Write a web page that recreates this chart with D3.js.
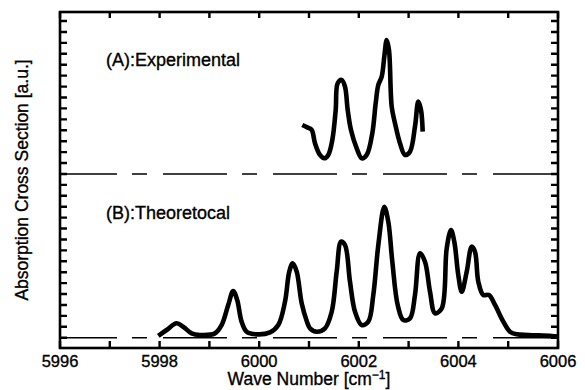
<!DOCTYPE html>
<html>
<head>
<meta charset="utf-8">
<script src="https://cdn.jsdelivr.net/npm/d3@7"></script>
<style>
  html, body { margin: 0; padding: 0; background: #fff; }
  svg { display: block; }
  text { font-family: "Liberation Sans", "DejaVu Sans", sans-serif; fill: #000; stroke: #000; stroke-width: 0.35px; }
</style>
</head>
<body>
<svg id="chart" width="585" height="390"></svg>
<script>
// ---- data ----
const xTicks = [5996, 5997, 5998, 5999, 6000, 6001, 6002, 6003, 6004, 6005, 6006];
const xLabelTicks = [5996, 5998, 6000, 6002, 6004, 6006];
const yTicks = d3.range(0, 30, 1);
const baselineA = 15;
const baselineB = 0;
const labelA = "(A):Experimental";
const labelB = "(B):Theoretocal";

const expX = [6000.865, 6000.974, 6001.054, 6001.120, 6001.220, 6001.307, 6001.387, 6001.468, 6001.536, 6001.576,
  6001.657, 6001.723, 6001.777, 6001.843, 6001.958, 6002.058, 6002.159, 6002.271, 6002.339, 6002.392,
  6002.460, 6002.512, 6002.560, 6002.606, 6002.661, 6002.727, 6002.827, 6002.928, 6003.028, 6003.128,
  6003.195, 6003.249, 6003.283];
const expY = [19.48, 19.24, 19.03, 17.81, 16.74, 16.43, 16.74, 18.11, 20.86, 23.30,
  23.61, 22.99, 20.86, 19.03, 17.35, 16.43, 16.74, 18.72, 21.47, 23.15,
  23.91, 25.74, 27.27, 26.35, 21.16, 19.64, 17.81, 16.74, 17.04, 19.33,
  21.62, 20.86, 18.87];

const theoX = [5997.974, 5998.141, 5998.341, 5998.474, 5998.643, 5998.809, 5999.110, 5999.245, 5999.378, 5999.478,
  5999.558, 5999.647, 5999.747, 5999.948, 6000.217, 6000.383, 6000.518, 6000.604, 6000.673, 6000.753,
  6000.853, 6000.954, 6001.020, 6001.155, 6001.321, 6001.456, 6001.556, 6001.643, 6001.723, 6001.823,
  6001.924, 6002.058, 6002.191, 6002.291, 6002.392, 6002.512, 6002.592, 6002.673, 6002.781, 6002.894,
  6003.028, 6003.128, 6003.229, 6003.329, 6003.430, 6003.530, 6003.665, 6003.765, 6003.851, 6003.918,
  6003.998, 6004.067, 6004.167, 6004.267, 6004.333, 6004.400, 6004.500, 6004.614, 6004.735, 6004.902,
  6005.036, 6005.171, 6005.404, 6005.873, 6006.0];
const theoY = [0.18, 0.71, 1.32, 1.01, 0.40, 0.25, 0.40, 1.16, 3.00, 4.28,
  3.45, 1.47, 0.55, 0.31, 0.49, 1.16, 3.30, 6.05, 6.82, 6.05,
  3.15, 1.53, 0.86, 0.55, 0.86, 2.38, 6.05, 8.79, 8.49, 5.13,
  2.38, 1.16, 1.47, 3.91, 8.49, 12.00, 10.63, 6.96, 3.00, 1.62,
  1.78, 3.91, 7.73, 6.96, 4.21, 2.24, 2.69, 8.19, 9.87, 8.79,
  5.74, 4.21, 6.05, 8.34, 7.88, 5.13, 3.91, 3.91, 3.00, 1.47,
  0.55, 0.31, 0.25, 0.16, 0.11];

// ---- layout ----
const svg = d3.select("#chart");
const L = 60, R = 558, T = 12, B = 348;
const x = d3.scaleLinear().domain([5996, 6006]).range([L, R]);
const y = d3.scaleLinear().domain([-0.94, 29.83]).range([B, T]);

// dashed baselines
svg.selectAll("line.base").data([baselineA, baselineB]).join("line")
  .attr("class", "base")
  .attr("x1", L).attr("x2", R)
  .attr("y1", d => y(d)).attr("y2", d => y(d))
  .attr("stroke", "#000").attr("stroke-width", 1.6)
  .attr("stroke-dasharray", "64,15,15,16")
  .attr("stroke-dashoffset", 7);

// curves
const lineGen = d3.line().x(d => x(d[0])).y(d => y(d[1])).curve(d3.curveCatmullRom.alpha(0.5));
[[expX, expY], [theoX, theoY]].forEach(([xs, ys]) => {
  svg.append("path")
    .attr("d", lineGen(xs.map((v, i) => [v, ys[i]])))
    .attr("fill", "none").attr("stroke", "#000").attr("stroke-width", 4.6)
    .attr("stroke-linejoin", "round").attr("stroke-linecap", "butt");
});

// frame
svg.append("rect")
  .attr("x", L).attr("y", T).attr("width", R - L).attr("height", B - T)
  .attr("fill", "none").attr("stroke", "#000").attr("stroke-width", 2.6);

// inward ticks on all four sides (single path built from the scales)
const tk = 7;
const segs = [];
xTicks.forEach(d => { segs.push(`M${x(d)},${B}V${B - tk}`); segs.push(`M${x(d)},${T}V${T + tk - 1}`); });
yTicks.forEach(d => { segs.push(`M${L},${y(d)}H${L + tk}`); segs.push(`M${R},${y(d)}H${R - tk}`); });
svg.append("path").attr("d", segs.join(""))
  .attr("fill", "none").attr("stroke", "#000").attr("stroke-width", 2.4);

// tick labels
svg.selectAll("text.xl").data(xLabelTicks).join("text").attr("class", "xl")
  .attr("x", d => x(d)).attr("y", 367)
  .attr("text-anchor", "middle").attr("font-size", 16.5)
  .text(d => d3.format("d")(d));

// labels
svg.append("text").attr("x", 106).attr("y", 66).attr("font-size", 18).text(labelA);
svg.append("text").attr("x", 106).attr("y", 219).attr("font-size", 18).text(labelB);
svg.append("text").attr("x", (L + R) / 2).attr("y", 385).attr("text-anchor", "middle")
  .attr("font-size", 17.5)
  .html('Wave Number [cm<tspan dy="-6" font-size="12">−1</tspan><tspan dy="6">]</tspan>');
svg.append("text").attr("transform", `translate(28,${(T + B) / 2}) rotate(-90)`)
  .attr("text-anchor", "middle").attr("font-size", 17.5)
  .text("Absorption Cross Section [a.u.]");
</script>
</body>
</html>
